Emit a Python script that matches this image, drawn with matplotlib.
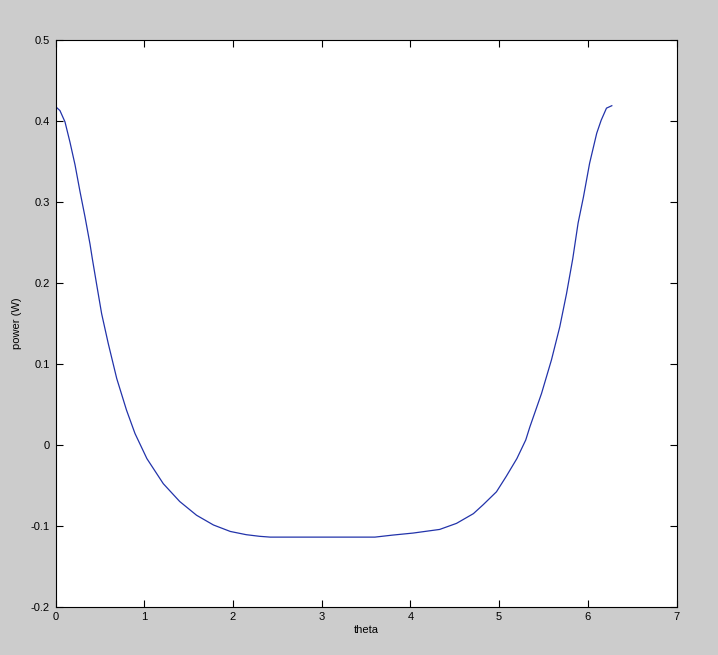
import matplotlib
matplotlib.use('Agg')
import matplotlib.pyplot as plt

# values
theta = [0.0, 0.05, 0.107, 0.163, 0.22, 0.276, 0.332, 0.389, 0.415, 0.464,
         0.52, 0.595, 0.69, 0.80, 0.896, 1.03, 1.215, 1.40, 1.59, 1.78,
         1.97, 2.15, 2.30, 2.42, 2.70, 3.09, 3.40, 3.60, 3.80, 4.03,
         4.33, 4.52, 4.71, 4.82, 4.97, 5.08, 5.20, 5.30, 5.346, 5.478,
         5.59, 5.684, 5.76, 5.83, 5.89, 5.95, 6.02, 6.10, 6.15, 6.21, 6.27]
power = [0.418, 0.413, 0.399, 0.374, 0.346, 0.313, 0.282, 0.248, 0.230, 0.198,
         0.162, 0.125, 0.082, 0.043, 0.014, -0.017, -0.048, -0.070, -0.087, -0.099,
         -0.107, -0.111, -0.113, -0.114, -0.114, -0.114, -0.114, -0.114, -0.1115, -0.109,
         -0.1045, -0.097, -0.085, -0.074, -0.058, -0.039, -0.017, 0.006, 0.022, 0.0635,
         0.105, 0.146, 0.187, 0.230, 0.274, 0.306, 0.348, 0.385, 0.401, 0.416, 0.419]

xticks = [0, 1, 2, 3, 4, 5, 6, 7]
yticks = [-0.2, -0.1, 0, 0.1, 0.2, 0.3, 0.4, 0.5]
ytick_labels = ['-0.2', '-0.1', '0', '0.1', '0.2', '0.3', '0.4', '0.5']

plt.rcParams['font.family'] = ['Liberation Sans', 'DejaVu Sans']
plt.rcParams['font.size'] = 8

fig = plt.figure(figsize=(7.18, 6.55), dpi=100, facecolor='#cccccc')
ax = fig.add_axes([0.0773, 0.0737, 0.865, 0.865])
ax.set_facecolor('white')

ax.plot(theta, power, color='#2233aa', linewidth=0.9)

ax.set_xlim(0, 7)
ax.set_ylim(-0.2, 0.5)
ax.set_xticks(xticks)
ax.set_yticks(yticks)
ax.set_yticklabels(ytick_labels)
ax.tick_params(direction='in', length=5, width=0.8, top=True, right=True,
               labelsize=8, pad=4)
for s in ax.spines.values():
    s.set_linewidth(0.8)

ax.set_xlabel('theta', fontsize=8, labelpad=2)
ax.set_ylabel('power (W)', fontsize=8, labelpad=6)

fig.savefig('out.png', dpi=100, facecolor=fig.get_facecolor())
